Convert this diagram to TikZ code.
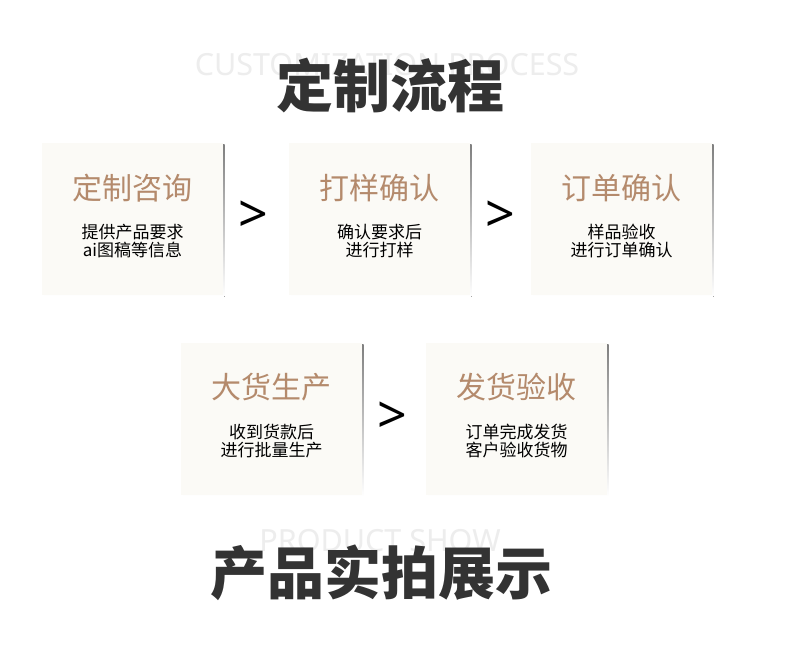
\documentclass[tikz,border=0pt]{standalone}
\usepackage{fontspec}
\usetikzlibrary{calc}
\setmainfont{Noto Sans}
\newfontfamily\cjk{Noto Sans CJK SC}
\definecolor{tan}{HTML}{B48A6C}
\definecolor{boxfill}{HTML}{FBFAF6}
\definecolor{shade}{HTML}{D2D2D2}
\definecolor{head}{HTML}{333333}
\definecolor{ghost}{HTML}{EDEDED}
\begin{document}
\begin{tikzpicture}[x=1pt,y=-1pt,
  card/.style={fill=boxfill, draw=none, minimum width=181pt, minimum height=152pt, inner sep=0pt},
  cardtitle/.style={text=tan, font=\cjk\fontsize{30}{32}\selectfont, inner sep=0pt},
  cardtext/.style={text=black, font=\cjk\fontsize{17}{18}\selectfont, align=center, inner sep=0pt},
  gt/.style={font=\fontsize{52}{52}\selectfont, text=black, inner sep=0pt},
  ghosttext/.style={text=ghost, font=\fontsize{30.5}{31}\selectfont, inner sep=0pt},
  heading/.style={text=head, font=\cjk\bfseries\fontsize{57}{60}\selectfont, inner sep=0pt}]
\useasboundingbox[fill=white] (0,0) rectangle (790,650);

\node[ghosttext] (g1) at (387,64.5) {CUSTOMIZATION PROCESS};
\node[heading] (t1) at (390,85) {定制流程};

\foreach \n/\x/\y in {c1/132.5/219, c2/379.5/219, c3/621.5/219, c4/271.5/418.5, c5/516.5/418.5}{
  \fill[shade] (\x-88.5,\y-74) rectangle (\x+92,\y+77.5);
  \node[card] (\n) at (\x,\y) {};
}

\node[cardtitle] (h1) at ($(c1)+(0,-31)$) {定制咨询};
\node[cardtext] (s1) at ($(c1)+(0,22.5)$) {提供产品要求\\ai图稿等信息};
\node[cardtitle] (h2) at ($(c2)+(0,-31)$) {打样确认};
\node[cardtext] (s2) at ($(c2)+(0,22.5)$) {确认要求后\\进行打样};
\node[cardtitle] (h3) at ($(c3)+(0,-31)$) {订单确认};
\node[cardtext] (s3) at ($(c3)+(0,22.5)$) {样品验收\\进行订单确认};
\node[cardtitle] (h4) at ($(c4)+(0,-31)$) {大货生产};
\node[cardtext] (s4) at ($(c4)+(0,22.5)$) {收到货款后\\进行批量生产};
\node[cardtitle] (h5) at ($(c5)+(0,-31)$) {发货验收};
\node[cardtext] (s5) at ($(c5)+(0,22.5)$) {订单完成发货\\客户验收货物};

\node[gt] (a1) at (253,217) {>};
\node[gt] (a2) at (500,217) {>};
\node[gt] (a3) at (392,418) {>};

\node[ghosttext] (g2) at (380,541) {PRODUCT SHOW};
\node[heading] (t2) at (381.5,573) {产品实拍展示};
\end{tikzpicture}
\end{document}
